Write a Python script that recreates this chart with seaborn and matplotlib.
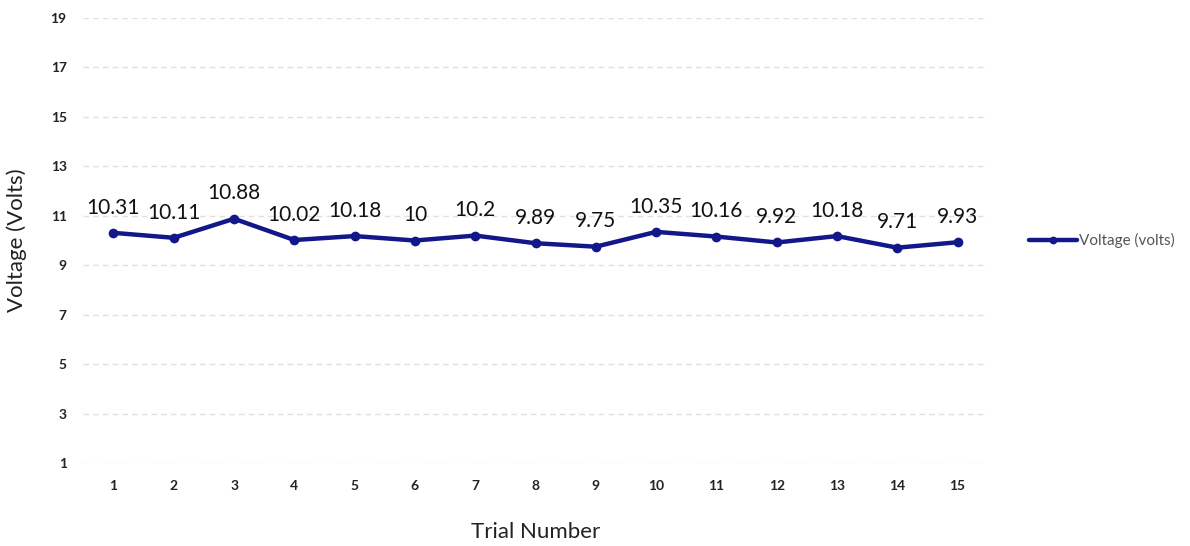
import matplotlib
matplotlib.use("Agg")
import matplotlib.pyplot as plt
import seaborn as sns
import pandas as pd

trials = list(range(1, 16))
voltage = [10.31, 10.11, 10.88, 10.02, 10.18, 10, 10.2, 9.89, 9.75, 10.35, 10.16, 9.92, 10.18, 9.71, 9.93]
labels = ["10.31", "10.11", "10.88", "10.02", "10.18", "10", "10.2", "9.89", "9.75", "10.35", "10.16", "9.92", "10.18", "9.71", "9.93"]
yticks = [1, 3, 5, 7, 9, 11, 13, 15, 17, 19]

sns.set_theme(style="white")
plt.rcParams['font.family'] = ['Lato', 'DejaVu Sans']

df = pd.DataFrame({"Trial Number": trials, "Voltage (volts)": voltage})

fig = plt.figure(figsize=(11.9, 5.46), dpi=100)
ax = fig.add_axes([0.07, 0.152, 0.76, 0.815])

sns.lineplot(data=df, x="Trial Number", y="Voltage (volts)", ax=ax, color="#12188a",
             linewidth=3.2, marker="o", markersize=7, markeredgewidth=0,
             label="Voltage (volts)")

for x, y, t in zip(trials, voltage, labels):
    ax.annotate(t, (x, y), xytext=(0, 11), textcoords="offset points",
                ha="center", va="bottom", fontsize=15, color="#111111")

ax.set_xlim(0.5, 15.5)
ax.set_ylim(1, 19)
ax.set_yticks(yticks)
ax.set_xticks(trials)
ax.tick_params(axis="both", labelsize=10, length=0, pad=12, colors="#222222")
for lab in ax.get_xticklabels() + ax.get_yticklabels():
    lab.set_fontweight("bold")
ax.yaxis.grid(True, color="#e0e0e0", linestyle=(0, (4, 3)), linewidth=1)
for s in ax.spines.values():
    s.set_visible(False)

ax.set_xlabel("Trial Number", fontsize=16, color="#222222", labelpad=22)
ax.set_ylabel("Voltage (Volts)", fontsize=16, color="#222222", labelpad=17)

ax.legend(loc="center left", bbox_to_anchor=(1.03, 0.5), frameon=False,
          fontsize=11, handlelength=3.2, handletextpad=0.1, labelcolor="#555555",
          markerscale=0.8)

fig.savefig("out.png", dpi=100)
